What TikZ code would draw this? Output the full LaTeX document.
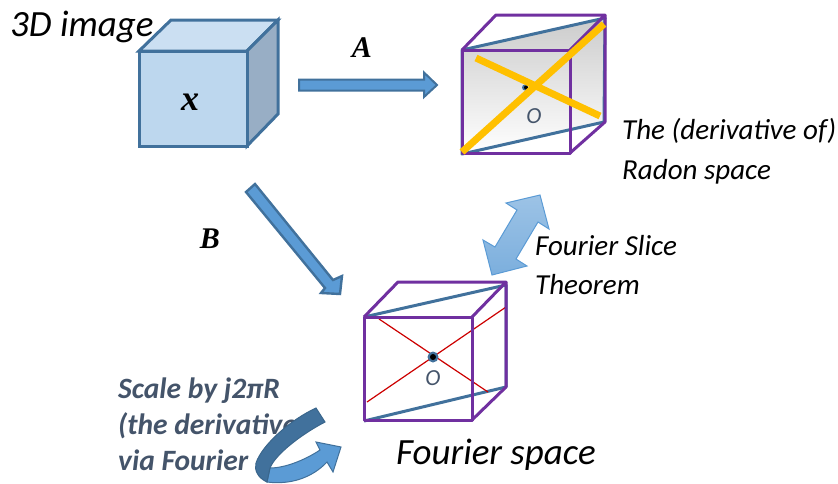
\documentclass[tikz,border=0pt]{standalone}
\usepackage{fontspec}
\setmainfont{Carlito}
\newfontfamily\timesfont{Liberation Serif}
\usepackage{tikz}
\definecolor{edgeblue}{HTML}{41719C}
\definecolor{cubeviolet}{HTML}{7030A0}
\definecolor{slate}{HTML}{44546A}
\definecolor{arrowblue}{HTML}{5B9BD5}
\definecolor{signyellow}{HTML}{FFC000}
\definecolor{facetop}{HTML}{CBDFF2}
\definecolor{faceside}{HTML}{98AEC5}
\definecolor{facefront}{HTML}{BDD7EE}

\begin{document}
\begin{tikzpicture}[
    x=1pt, y=-1pt,
    cubeline/.style={draw=cubeviolet, line width=3pt, line join=round},
    planeline/.style={draw=edgeblue, line width=3pt, line join=round},
    solidface/.style={draw=edgeblue, line width=3pt, line join=miter},
    blockarrow/.style={fill=arrowblue, draw=edgeblue, line width=2.4pt, line join=miter},
    caption/.style={font=\fontsize{29}{34}\selectfont\itshape, anchor=base west, inner sep=0pt},
    bigcaption/.style={font=\fontsize{37}{42}\selectfont\itshape, anchor=base west, inner sep=0pt},
    scalenote/.style={font=\fontsize{29.5}{34}\selectfont\bfseries\itshape, text=slate, anchor=base west, inner sep=0pt},
    symbol/.style={font=\fontsize{30}{34}\selectfont\timesfont\bfseries\itshape, anchor=base, inner sep=0pt},
    origin/.style={font=\fontsize{23}{27}\selectfont\itshape, text=slate, anchor=base, inner sep=0pt},
]
\useasboundingbox (0,0) rectangle (838,483);

% --- 3D image cube ---
\draw[solidface, fill=facetop] (139,51) -- (171,20) -- (278,20) -- (247,51) -- cycle;
\draw[solidface, fill=faceside] (247,51) -- (278,20) -- (278,114) -- (247,146) -- cycle;
\draw[solidface, fill=facefront] (139,51) rectangle (247,146);
\node[symbol, font=\fontsize{36}{40}\selectfont\timesfont\bfseries\itshape] (vol) at (190,110) {x};
\node[bigcaption] (image) at (10,36) {3D image};

% --- Transition arrows ---
\node[symbol] (opa) at (362,57) {A};
\draw[blockarrow, line width=2pt] (299,79.5) -- (424,79.5) -- (424,72.5) -- (437,85) -- (424,97) -- (424,90.5) -- (299,90.5) -- cycle;
\node[symbol] (opb) at (210,248) {B};
\draw[blockarrow] (246,192) -- (255,184) -- (333,280) -- (342,276) -- (340,294) -- (321,293) -- (325,288) -- cycle;

% --- Radon cube ---
\shade[top color=black!20, middle color=white, bottom color=white] (462,50) -- (605,18) -- (604,122) -- (462,154) -- cycle;
\draw[planeline] (462,50) -- (605,18) -- (604,122) -- (462,154) -- cycle;
\draw[cubeline] (462,50) rectangle (570,153);
\draw[cubeline] (462,50) -- (496,15) -- (605,15) -- (570,50);
\draw[cubeline] (605,15) -- (605,122) -- (570,153);
\fill[edgeblue] (525,87.5) circle (3pt);
\fill[black] (526,87.5) circle (2pt);
\draw[signyellow, line width=7pt] (462,152) -- (604,24);
\draw[signyellow, line width=7pt] (476,58) -- (600,116);
\node[origin] (radonorigin) at (534,123) {O};

% --- Labels on the right ---
\node[caption] (radon1) at (622,139) {The (derivative of)};
\node[caption] (radon2) at (622,179) {Radon space};
\node[caption] (slice1) at (535,255) {Fourier Slice};
\node[caption] (slice2) at (535,294) {Theorem};

% --- Fourier slice double arrow ---
\shade[top color=arrowblue!60, bottom color=arrowblue!80, draw=arrowblue, line width=1pt]
    (540,195) -- (506,203) -- (517,210) -- (495,247) -- (483,240) -- (492,275)
    -- (527,266) -- (516,259) -- (538,222) -- (549,229) -- cycle;

% --- Fourier cube ---
\draw[planeline] (364,317) -- (506,285) -- (506,387) -- (364,421);
\draw[red!80!black, line width=1.2pt] (379,319) -- (488,392);
\draw[red!80!black, line width=1.2pt] (367,402) -- (506,307);
\draw[cubeline] (364,317) rectangle (472,420);
\draw[cubeline] (364,317) -- (398,282) -- (506,282) -- (472,317);
\draw[cubeline] (506,282) -- (506,387) -- (472,420);
\fill[edgeblue] (433,357) circle (5.5pt);
\fill[black] (433,357) circle (3pt);
\node[origin] (fourierorigin) at (433,385) {O};
\node[bigcaption] (fourier) at (396,464) {Fourier space};

% --- Scale note and curved arrow ---
\node[scalenote] (note1) at (118,398) {Scale by j2πR};
\node[scalenote] (note2) at (118,434) {(the derivative};
\node[scalenote] (note3) at (118,470) {via Fourier};
\draw[blockarrow, line width=1pt] (267,482) .. controls (290,485) and (312,478) .. (327,462)
    -- (333,472) -- (341,447) -- (316,442) -- (320,450)
    .. controls (305,460) and (285,468) .. (270,468) -- cycle;
\draw[fill=edgeblue, draw=edgeblue!90!black, line width=1pt] (316,408) -- (325,422)
    .. controls (300,435) and (275,455) .. (270,468) -- (267,482)
    .. controls (258,478) and (254,470) .. (256,463)
    .. controls (262,445) and (290,420) .. (316,408) -- cycle;
\end{tikzpicture}
\end{document}
